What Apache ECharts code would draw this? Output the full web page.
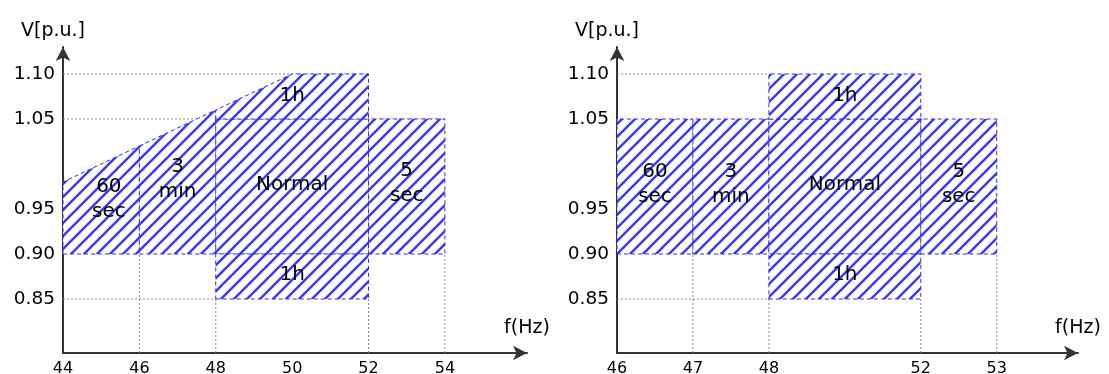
<!DOCTYPE html>
<html><head><meta charset="utf-8">
<script src="https://cdn.jsdelivr.net/npm/echarts@6/dist/echarts.min.js"></script>
<style>html,body{margin:0;padding:0;background:#fff}#c{width:1109px;height:374px}</style>
</head><body><div id="c"></div>
<script>
// ---- data ----
const yTicks = [0.85, 0.90, 0.95, 1.05, 1.10];
const leftXTicks = [44, 46, 48, 50, 52, 54];
const rightXTicks = [46, 47, 48, 52, 53];
const rightXPos = [0, 1, 2, 4, 5];

const regionNames = ['60\nsec', '3\nmin', 'Normal', '1h', '5\nsec', '1h'];
const leftRegionPolys = [
  [[44, 0.90], [46, 0.90], [46, 1.02], [44, 0.98]],
  [[46, 0.90], [48, 0.90], [48, 1.06], [46, 1.02]],
  [[48, 0.90], [52, 0.90], [52, 1.05], [48, 1.05]],
  [[48, 1.05], [52, 1.05], [52, 1.10], [50, 1.10], [48, 1.06]],
  [[52, 0.90], [54, 0.90], [54, 1.05], [52, 1.05]],
  [[48, 0.85], [52, 0.85], [52, 0.90], [48, 0.90]]
];
const leftLabelAt = [[45.2, 0.961], [47.0, 0.983], [50, 0.977], [50, 1.076], [53.0, 0.978], [50, 0.877]];
const leftGuides = [[44, 1.10, 52, 1.10], [44, 1.05, 54, 1.05], [44, 0.85, 48, 0.85],
  [46, 0.79, 46, 0.90], [48, 0.79, 48, 0.85], [52, 0.79, 52, 0.85], [54, 0.79, 54, 0.90]];

const rightRegionPolys = [
  [[46, 0.90], [47, 0.90], [47, 1.05], [46, 1.05]],
  [[47, 0.90], [48, 0.90], [48, 1.05], [47, 1.05]],
  [[48, 0.90], [52, 0.90], [52, 1.05], [48, 1.05]],
  [[48, 1.05], [52, 1.05], [52, 1.10], [48, 1.10]],
  [[52, 0.90], [53, 0.90], [53, 1.05], [52, 1.05]],
  [[48, 0.85], [52, 0.85], [52, 0.90], [48, 0.90]]
];
const rightLabelAt = [[46.5, 0.977], [47.5, 0.977], [50, 0.977], [50, 1.076], [52.5, 0.977], [50, 0.877]];
const rightGuides = [[46, 1.10, 48, 1.10], [46, 0.85, 48, 0.85],
  [47, 0.79, 47, 0.90], [48, 0.79, 48, 0.85], [52, 0.79, 52, 0.85], [53, 0.79, 53, 0.90]];

// ---- helpers ----
function rpos(f) {
  for (let i = 0; i < rightXTicks.length - 1; i++) {
    const a = rightXTicks[i], b = rightXTicks[i + 1];
    if (f >= a && f <= b) return rightXPos[i] + (f - a) / (b - a) * (rightXPos[i + 1] - rightXPos[i]);
  }
  return rightXPos[rightXPos.length - 1];
}
const T = 13;
const pc = document.createElement('canvas');
pc.width = T; pc.height = T;
const g = pc.getContext('2d');
g.fillStyle = '#fff'; g.fillRect(0, 0, T, T);
g.strokeStyle = '#3a3af0'; g.lineWidth = 2.4; g.lineCap = 'square';
for (const o of [-T, 0, T]) { g.beginPath(); g.moveTo(o - 1, T + 1); g.lineTo(o + T + 1, -1); g.stroke(); }
const hatch = { image: pc, repeat: 'repeat' };

const FONT = '"DejaVu Sans", "Liberation Sans", Arial, sans-serif';

function guideSeries(idx, data) {
  return {
    type: 'custom', xAxisIndex: idx, yAxisIndex: idx, z: 1, silent: true, data: data,
    renderItem: (p, api) => {
      const a = api.coord([api.value(0), api.value(1)]);
      const b = api.coord([api.value(2), api.value(3)]);
      return { type: 'line', shape: { x1: a[0], y1: a[1], x2: b[0], y2: b[1] },
        style: { stroke: '#8a8a8a', lineWidth: 1, lineDash: [2, 2] } };
    }
  };
}
function regionSeries(idx, polys) {
  return {
    type: 'custom', xAxisIndex: idx, yAxisIndex: idx, z: 2, silent: true,
    data: polys.map((p, i) => [i]),
    renderItem: (p, api) => {
      const poly = polys[api.value(0)].map(pt => api.coord(pt));
      return { type: 'polygon', shape: { points: poly },
        style: { fill: hatch, stroke: '#2a2aff', lineWidth: 1, lineDash: [4, 3] } };
    }
  };
}
function labelSeries(idx, pts) {
  return {
    type: 'custom', xAxisIndex: idx, yAxisIndex: idx, z: 3, silent: true,
    data: pts.map((p, i) => [p[0], p[1], i]),
    renderItem: (p, api) => {
      const c = api.coord([api.value(0), api.value(1)]);
      return { type: 'text', x: c[0], y: c[1], scaleX: 1.05,
        style: { text: regionNames[api.value(2)], align: 'center', verticalAlign: 'middle',
          fontSize: 19, fontFamily: FONT, lineHeight: 25, fill: '#000' } };
    }
  };
}
function yAxis(idx) {
  return {
    type: 'value', gridIndex: idx, min: 0.79, max: 1.13,
    name: 'V[p.u.]', nameLocation: 'end', nameGap: 6,
    nameTextStyle: { color: '#000', fontSize: 19, fontFamily: FONT, align: 'center', padding: [0, 20, 0, 0] },
    axisLine: { show: true, symbol: ['none', 'arrow'], symbolSize: [11, 14], symbolOffset: [0, 0],
      lineStyle: { color: '#333', width: 2 } },
    axisTick: { show: false }, splitLine: { show: false },
    axisLabel: { customValues: yTicks, formatter: v => v.toFixed(2), color: '#000', fontSize: 18.5,
      fontFamily: FONT, margin: 8 }
  };
}
function xName() {
  return { color: '#000', fontSize: 19, fontFamily: FONT, align: 'center', verticalAlign: 'bottom', padding: [0, 0, 15, 0] };
}

const rightG = rightRegionPolys.map(poly => poly.map(pt => [rpos(pt[0]), pt[1]]));
const rightL = rightLabelAt.map(pt => [rpos(pt[0]), pt[1]]);
const rightGd = rightGuides.map(s => [rpos(s[0]), s[1], rpos(s[2]), s[3]]);

const chart = echarts.init(document.getElementById('c'), null, { renderer: 'canvas' });
chart.setOption({
  animation: false,
  backgroundColor: '#fff',
  grid: [
    { left: 63, top: 47, width: 464, height: 306, containLabel: false, outerBoundsMode: 'none' },
    { left: 617, top: 47, width: 461, height: 306, containLabel: false, outerBoundsMode: 'none' }
  ],
  xAxis: [
    { type: 'value', gridIndex: 0, min: 44, max: 56.15, interval: 2,
      name: 'f(Hz)', nameLocation: 'end', nameGap: 0, nameTextStyle: xName(),
      axisLine: { show: true, onZero: false, symbol: ['none', 'arrow'], symbolSize: [11, 14], symbolOffset: [0, 0],
        lineStyle: { color: '#333', width: 2 } },
      axisTick: { show: false }, splitLine: { show: false },
      axisLabel: { customValues: leftXTicks, color: '#000', fontSize: 16, fontFamily: FONT, margin: 8 } },
    { type: 'value', gridIndex: 1, min: 0, max: 6.07, interval: 1,
      name: 'f(Hz)', nameLocation: 'end', nameGap: 0, nameTextStyle: xName(),
      axisLine: { show: true, onZero: false, symbol: ['none', 'arrow'], symbolSize: [11, 14], symbolOffset: [0, 0],
        lineStyle: { color: '#333', width: 2 } },
      axisTick: { show: false }, splitLine: { show: false },
      axisLabel: { customValues: rightXPos, formatter: v => { const i = rightXPos.indexOf(Math.round(v)); return i >= 0 ? String(rightXTicks[i]) : ''; },
        color: '#000', fontSize: 16, fontFamily: FONT, margin: 8 } }
  ],
  yAxis: [yAxis(0), yAxis(1)],
  series: [
    guideSeries(0, leftGuides), regionSeries(0, leftRegionPolys), labelSeries(0, leftLabelAt),
    guideSeries(1, rightGd), regionSeries(1, rightG), labelSeries(1, rightL)
  ]
});
</script></body></html>
